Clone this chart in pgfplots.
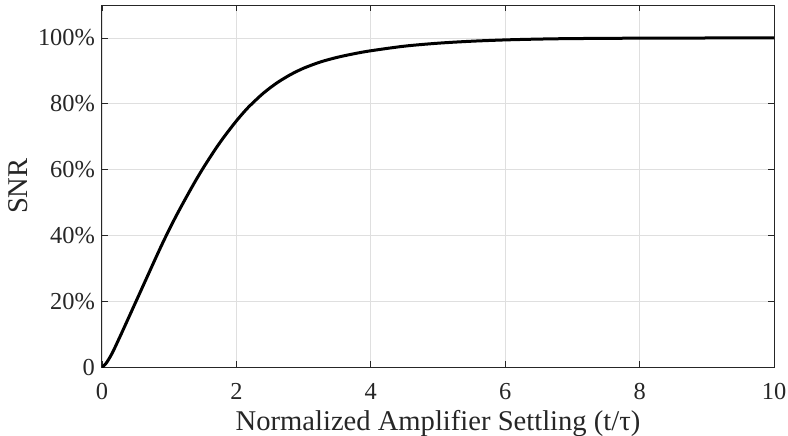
\documentclass[border=0pt]{standalone}
\usepackage{pgfplots}
\pgfplotsset{compat=1.18}
\usetikzlibrary{calc}
\usepackage{fontspec}
\setmainfont{Liberation Serif}
\definecolor{axisgray}{RGB}{38,38,38}
\definecolor{gridgray}{RGB}{223,223,223}

\begin{document}
\begin{tikzpicture}
\begin{axis}[
  scale only axis,
  width=336pt, height=181.1pt,
  xmin=0, xmax=10, ymin=0, ymax=110,
  xtick={0,2,4,6,8,10},
  ytick={0,20,40,60,80,100},
  yticklabels={0,20\%,40\%,60\%,80\%,100\%},
  /pgf/number format/assume math mode=true,
  tick align=inside,
  major tick length=3pt,
  tick style={axisgray, line width=0.4pt},
  axis line style={axisgray, line width=0.5pt},
  grid=major,
  major grid style={gridgray, line width=0.4pt},
  tick label style={font=\fontsize{12.2}{13}\selectfont, text=axisgray},
  xticklabel style={yshift=-4.5pt},
  label style={font=\fontsize{14.3}{15}\selectfont, text=axisgray},
  xlabel={Normalized Amplifier Settling (t/τ)},
  ylabel={SNR},
  xlabel style={at={(axis description cs:0.5,0)}, anchor=center, yshift=-28pt},
  ylabel style={at={(axis description cs:0,0.5)}, anchor=center, yshift=41.75pt},
]
% SNR (in percent) against normalized settling time
\addplot[black, line width=1.5pt, smooth] coordinates {
 (0,0) (0.05,0.9) (0.1,2.4) (0.15,4.2) (0.2,6.3) (0.25,8.5) (0.3,10.7)
 (0.4,15.2) (0.5,19.7) (0.6,24.2) (0.7,28.7) (0.8,33.2) (0.9,37.6)
 (1.0,41.8) (1.1,45.8) (1.2,49.6) (1.3,53.3) (1.4,56.9) (1.5,60.3)
 (1.6,63.5) (1.7,66.6) (1.8,69.5) (1.9,72.2) (2.0,74.8) (2.1,77.2)
 (2.2,79.4) (2.4,83.2) (2.6,86.3) (2.8,88.8) (3.0,90.8) (3.25,92.7)
 (3.5,94.1) (3.75,95.2) (4.0,96.1) (4.5,97.5) (5.0,98.4) (5.5,99.0)
 (6.0,99.4) (6.5,99.65) (7.0,99.8) (8.0,99.93) (9.0,99.98) (10.0,100)
};
\end{axis}
\pgfresetboundingbox
\path[use as bounding box] ($(current axis.south west)+(-51pt,-34.15pt)$) rectangle ($(current axis.north east)+(7pt,2.5pt)$);
\end{tikzpicture}
\end{document}
